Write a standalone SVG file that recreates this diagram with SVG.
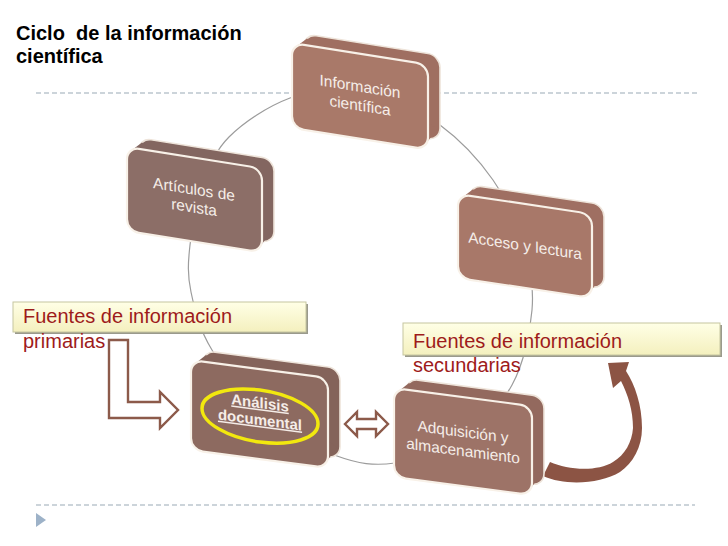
<svg xmlns="http://www.w3.org/2000/svg" width="728" height="546" viewBox="0 0 728 546">
<defs>
<linearGradient id="yel" x1="0" y1="0" x2="0" y2="1">
<stop offset="0" stop-color="#FFFFE6"/>
<stop offset="1" stop-color="#F4F0BE"/>
</linearGradient>
<style>
.dash{stroke:#BCC6CE;stroke-width:1.4;stroke-dasharray:5 3;fill:none}
.cyc{fill:none;stroke:#9C9C9C;stroke-width:1.2}
.back{stroke:#EEE4DA;stroke-width:1.6}
.front{stroke:#F8F1E8;stroke-width:2.2}
.nt{font-family:"Liberation Sans",Arial,sans-serif;font-size:15.5px;fill:#F5EDE8;text-anchor:middle}
.nb{font-family:"Liberation Sans",Arial,sans-serif;font-size:15px;font-weight:bold;fill:#F5EDE8;text-anchor:middle;text-decoration:underline}
.title{font-family:"Liberation Sans",Arial,sans-serif;font-size:20px;font-weight:bold;fill:#000;white-space:pre}
.lbl{font-family:"Liberation Sans",Arial,sans-serif;font-size:20px;fill:#9E1B1B}
.shadow{fill:#9A9A8C}
.ybox{fill:url(#yel);stroke:#C6C6A0;stroke-width:1}
.hollow{fill:#FFFFFF;stroke:#8C5A4A;stroke-width:2.4;stroke-linejoin:miter}
</style>
</defs>
<rect width="728" height="546" fill="#FFFFFF"/>

<g id="title">
<text class="title" x="16" y="40" xml:space="preserve">Ciclo  de la información</text>
<text class="title" x="16" y="63">científica</text>
</g>

<g id="rules">
<line class="dash" x1="36" y1="93" x2="700" y2="93"/>
<line class="dash" x1="36" y1="505" x2="695" y2="505"/>
<polygon points="36,513 46,520 36,527" fill="#9DB2C8"/>
</g>

<g id="connectors">
<path class="cyc" d="M365,86 C390,90.5 418.7,109.3 440,125 C461.3,140.7 479,160 493,180 C507,200 517.5,223.3 524,245 C530.5,266.7 534,286.7 532,310 C530,333.3 523.7,363.7 512,385 C500.3,406.3 481.5,425 462,438 C442.5,451 415.8,460 395,463 C374.2,466 358.2,463.8 337,456 C315.8,448.2 288.8,433.7 268,416 C247.2,398.3 224.8,370.7 212,350 C199.2,329.3 194.7,309.5 191,292 C187.3,274.5 188,262.8 190,245 C192,227.2 196.5,203 203,185 C209.5,167 214.5,151.5 229,137 C243.5,122.5 267.3,106.5 290,98 C312.7,89.5 340,81.5 365,86 Z"/>
<polygon id="arrow-primarias" class="hollow" points="109,340 128,340 128,402 160,402 160,392 178,410 160,428 160,418 109,418"/>
<polygon id="arrow-double" class="hollow" points="345,424 357,412 357,419 376,419 376,412 388,424 376,436 376,429 357,429 357,436"/>
<path id="arrow-curved" fill="#8C5444" d="M543,476 C565,486 600,484 620,472 C633,463 642,447 642,428 C642,405 635,385 626,371 L629,362 L608,363 L613,388 L621,381 C628,395 633,410 633,428 C632,442 625,455 613,462 C597,472 568,470 550,462 Z"/>
</g>

<g id="node-informacion" transform="translate(292,43) skewY(9)">
<rect class="back" x="12" y="-11" width="136" height="85" rx="12" fill="#9F6F61"/>
<polygon points="3,4 15,-7 145,63 133,81" fill="#9F6F61"/>
<rect class="front" x="0" y="0" width="136" height="85" rx="12" fill="#A97969"/>
<text class="nt" x="68" y="38">Información</text>
<text class="nt" x="68" y="57">científica</text>
</g>

<g id="node-articulos" transform="translate(127,147) skewY(9)">
<rect class="back" x="12" y="-11" width="135" height="84" rx="12" fill="#836660"/>
<polygon points="3,4 15,-7 144,62 132,80" fill="#836660"/>
<rect class="front" x="0" y="0" width="135" height="84" rx="12" fill="#8C6E67"/>
<text class="nt" x="67" y="37">Artículos de</text>
<text class="nt" x="67" y="55">revista</text>
</g>

<g id="node-acceso" transform="translate(458,194) skewY(8.5)">
<rect class="back" x="12" y="-11" width="134" height="84" rx="12" fill="#9F6F62"/>
<polygon points="3,4 15,-7 143,62 131,80" fill="#9F6F62"/>
<rect class="front" x="0" y="0" width="134" height="84" rx="12" fill="#A87869"/>
<text class="nt" x="67" y="47">Acceso y lectura</text>
</g>

<g id="node-analisis" transform="translate(191,360) skewY(7.5)">
<rect class="back" x="12" y="-11" width="137" height="90" rx="12" fill="#84635A"/>
<polygon points="3,4 15,-7 146,68 134,86" fill="#84635A"/>
<rect class="front" x="0" y="0" width="137" height="90" rx="12" fill="#8D6A60"/>
<ellipse cx="69" cy="47" rx="58" ry="26" fill="none" stroke="#F2E80E" stroke-width="3.5"/>
<text class="nb" x="69" y="39">Análisis</text>
<text class="nb" x="69" y="56">documental</text>
</g>

<g id="node-adquisicion" transform="translate(394,388) skewY(7.5)">
<rect class="back" x="12" y="-11" width="138" height="89" rx="12" fill="#93695E"/>
<polygon points="3,4 15,-7 147,67 135,85" fill="#93695E"/>
<rect class="front" x="0" y="0" width="138" height="89" rx="12" fill="#9D7367"/>
<text class="nt" x="69" y="40">Adquisición y</text>
<text class="nt" x="69" y="59">almacenamiento</text>
</g>

<g id="label-primarias">
<rect class="shadow" x="15" y="304" width="293" height="30"/>
<rect class="ybox" x="13" y="302" width="293" height="30"/>
<text class="lbl" x="23" y="323">Fuentes de información</text>
<text class="lbl" x="23" y="348">primarias</text>
</g>

<g id="label-secundarias">
<rect class="shadow" x="405" y="325" width="317" height="32"/>
<rect class="ybox" x="403" y="323" width="317" height="32"/>
<text class="lbl" x="413" y="348">Fuentes de información</text>
<text class="lbl" x="413" y="372">secundarias</text>
</g>
</svg>
